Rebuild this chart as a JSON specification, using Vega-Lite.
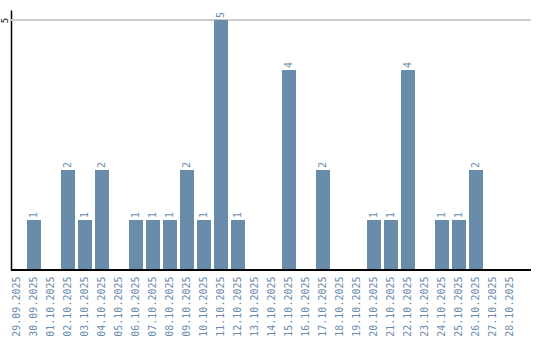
{
  "$schema": "https://vega.github.io/schema/vega-lite/v6.json",
  "autosize": "none",
  "width": 520,
  "height": 260,
  "padding": {"left": 11, "top": 10, "right": 9, "bottom": 70},
  "background": "white",
  "config": {"view": {"stroke": null}, "font": "DejaVu Sans Mono"},
  "data": {"values": [
    {"date": "29.09.2025", "count": 0},
    {"date": "30.09.2025", "count": 1},
    {"date": "01.10.2025", "count": 0},
    {"date": "02.10.2025", "count": 2},
    {"date": "03.10.2025", "count": 1},
    {"date": "04.10.2025", "count": 2},
    {"date": "05.10.2025", "count": 0},
    {"date": "06.10.2025", "count": 1},
    {"date": "07.10.2025", "count": 1},
    {"date": "08.10.2025", "count": 1},
    {"date": "09.10.2025", "count": 2},
    {"date": "10.10.2025", "count": 1},
    {"date": "11.10.2025", "count": 5},
    {"date": "12.10.2025", "count": 1},
    {"date": "13.10.2025", "count": 0},
    {"date": "14.10.2025", "count": 0},
    {"date": "15.10.2025", "count": 4},
    {"date": "16.10.2025", "count": 0},
    {"date": "17.10.2025", "count": 2},
    {"date": "18.10.2025", "count": 0},
    {"date": "19.10.2025", "count": 0},
    {"date": "20.10.2025", "count": 1},
    {"date": "21.10.2025", "count": 1},
    {"date": "22.10.2025", "count": 4},
    {"date": "23.10.2025", "count": 0},
    {"date": "24.10.2025", "count": 1},
    {"date": "25.10.2025", "count": 1},
    {"date": "26.10.2025", "count": 2},
    {"date": "27.10.2025", "count": 0},
    {"date": "28.10.2025", "count": 0}
  ]},
  "encoding": {
    "x": {
      "field": "date", "type": "nominal", "sort": null,
      "scale": {"range": [-1, 506], "paddingInner": 0.176, "paddingOuter": 0},
      "axis": {"title": null, "labelAngle": -90, "labelColor": "#6a8cab", "labelFontSize": 10, "labelFont": "DejaVu Sans Mono", "ticks": false, "domain": false, "labelPadding": 6}
    },
    "y": {
      "field": "count", "type": "quantitative",
      "scale": {"domain": [0, 5.2], "nice": false},
      "axis": {"title": null, "values": [5], "labelAngle": -90, "labelAlign": "center", "labelBaseline": "bottom", "labelColor": "#000", "labelFontSize": 9, "labelPadding": 2, "ticks": false, "domain": true, "domainColor": "#000", "domainWidth": 1.5, "grid": false}
    }
  },
  "layer": [
    {
      "mark": {"type": "rule", "color": "#cccccc", "strokeWidth": 1},
      "encoding": {"y": {"datum": 5}, "x": null}
    },
    {"mark": {"type": "bar", "color": "#6a8cab"}},
    {
      "transform": [{"filter": "datum.count > 0"}],
      "mark": {"type": "text", "angle": -90, "align": "left", "baseline": "middle", "dx": 2, "fontSize": 10, "color": "#6a8cab", "font": "DejaVu Sans Mono"},
      "encoding": {"text": {"field": "count", "type": "quantitative"}}
    },
    {
      "mark": {"type": "rule", "color": "#000", "strokeWidth": 1.5},
      "encoding": {"y": {"datum": 0}, "x": null}
    }
  ]
}
